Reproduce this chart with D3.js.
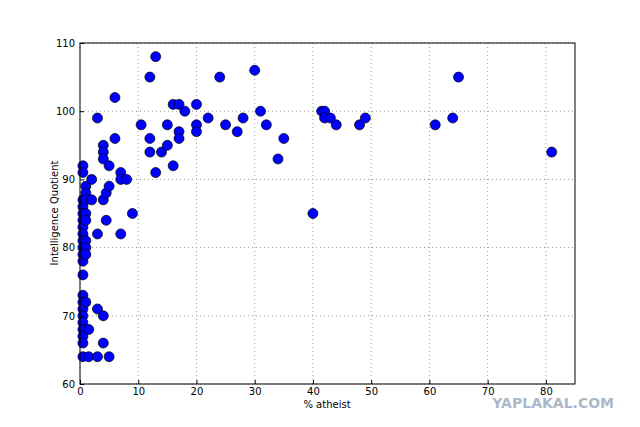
<!DOCTYPE html>
<html><head><meta charset="utf-8">
<script src="https://cdn.jsdelivr.net/npm/d3@7"></script>
<style>body{margin:0;background:#fff}</style>
</head><body>
<svg id="c" width="640" height="427"></svg>
<script>
const atheist = [0.5,0.5,0.5,0.5,0.5,0.5,0.5,0.5,0.5,0.5,0.5,0.5,0.5,0.5,0.5,0.5,0.5,0.5,0.5,0.5,0.5,0.5,
  1,1,1,1,1,1,1,1,1,1.5,1.5, 2,2, 3,3,3,3, 4,4,4,4,4,4, 4.5,4.5, 5,5,5, 6,6, 7,7,7, 8, 9, 10.5,
  12,12,12, 13,13, 14, 15,15, 16,16, 17,17,17, 18, 20,20,20, 22, 24, 25, 27, 28, 30, 31, 32, 34, 35, 40,
  41.5, 42,42, 43, 44, 48, 49, 61, 64, 65, 81]
const iq = [92,91,87,86,85,84,83,82,81,80,79,78,76,73,72,71,70,69,68,67,66,64,
  89,88,87,85,84,81,80,79,72,68,64, 90,87, 99,82,71,64, 95,94,93,87,70,66, 88,84, 92,89,64, 102,96, 91,90,82, 90, 85, 98,
  105,96,94, 108,91, 94, 98,95, 101,92, 101,97,96, 100, 101,98,97, 99, 105, 98, 97, 99, 106, 100, 98, 93, 96, 85,
  100, 100,99, 99, 98, 98, 99, 98, 99, 105, 94]
const xTicks = d3.range(0, 81, 10)
const yTicks = d3.range(60, 111, 10)

const svg = d3.select('#c')
const x = d3.scaleLinear().domain([0, 85]).range([80, 575])
const y = d3.scaleLinear().domain([60, 110]).range([384, 43])

const grid = svg.append('g')
xTicks.forEach(t => grid.append('line').attr('x1', x(t)).attr('x2', x(t)).attr('y1', 43).attr('y2', 384)
  .attr('stroke', '#999').attr('stroke-dasharray', '1,3'))
yTicks.forEach(t => grid.append('line').attr('y1', y(t)).attr('y2', y(t)).attr('x1', 80).attr('x2', 575)
  .attr('stroke', '#999').attr('stroke-dasharray', '1,3'))

svg.append('g').selectAll('circle')
  .data(atheist.map((a, i) => [a, iq[i]]))
  .enter().append('circle')
    .attr('cx', d => x(d[0]))
    .attr('cy', d => y(d[1]))
    .attr('r', 5)
    .style('fill', '#0000ff')
    .style('stroke', '#000')
    .style('stroke-width', 0.7)

svg.append('rect').attr('x', 80).attr('y', 43).attr('width', 495).attr('height', 341)
  .attr('fill', 'none').attr('stroke', '#000')

const xa = svg.append('g').attr('transform', 'translate(0,384)')
  .call(d3.axisBottom(x).tickValues(xTicks).tickSize(-4).tickPadding(4))
const ya = svg.append('g').attr('transform', 'translate(80,0)')
  .call(d3.axisLeft(y).tickValues(yTicks).tickSize(-4).tickPadding(5))
;[xa, ya].forEach(a => { a.select('.domain').remove(); a.selectAll('text').style('font-family', 'DejaVu Sans').style('font-size', '10px') })

svg.append('text').attr('x', 327).attr('y', 408).attr('text-anchor', 'middle')
  .style('font-family', 'DejaVu Sans').style('font-size', '10px').text('% atheist')
svg.append('text').attr('transform', 'translate(58,213) rotate(-90)').attr('text-anchor', 'middle')
  .style('font-family', 'DejaVu Sans').style('font-size', '10px').text('Intelligence Quotient')
svg.append('text').attr('x', 614).attr('y', 408).attr('text-anchor', 'end')
  .style('font-family', 'DejaVu Sans').style('font-weight', 'bold').style('font-size', '14px')
  .style('fill', '#aab8c8').text('YAPLAKAL.COM')
</script>
</body></html>
